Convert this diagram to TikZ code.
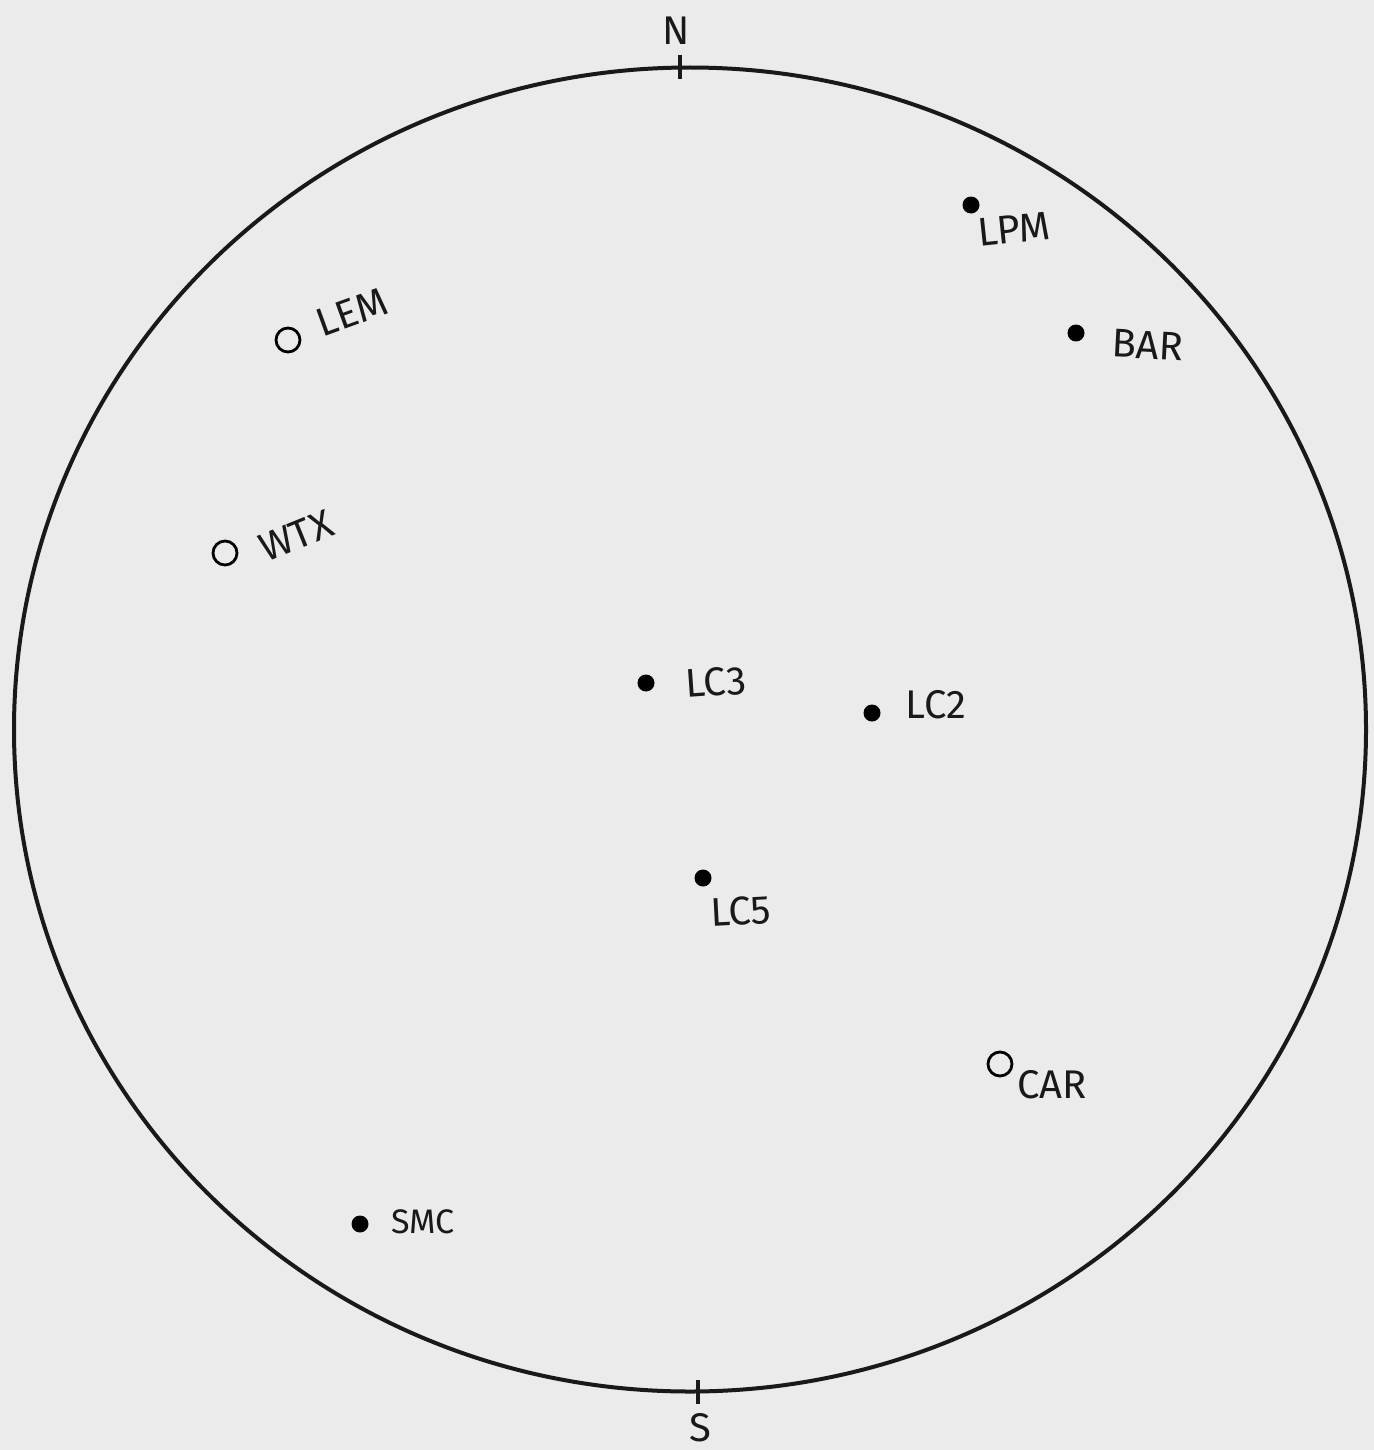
\documentclass[tikz,border=0pt]{standalone}
\usepackage{fontspec}
\setmainfont{Fira Sans}
\usetikzlibrary{shapes.geometric}
\begin{document}
\begin{tikzpicture}[x=0.5pt,y=-0.5pt,
  lbl/.style={font=\fontsize{20}{22}\selectfont, inner sep=0pt, text=black!90},
  fdot/.style={circle, fill=black, inner sep=0pt, minimum size=8.5pt},
  odot/.style={circle, draw=black, line width=1.4pt, fill=none, inner sep=0pt, minimum size=12pt},
  net/.style={line width=2pt, draw=black!90},
  tickl/.style={line width=1.8pt, draw=black!90}]
\fill[black!8] (0,0) rectangle (1374,1450);
\useasboundingbox (0,0) rectangle (1374,1450);
% primitive circle
\node[net, ellipse, minimum width=676pt, minimum height=662pt, inner sep=0pt] (net) at (690,729.5) {};
% N / S ticks
\coordinate (nt1) at (680,55); \coordinate (nt2) at (680,79);
\draw[tickl] (nt1) -- (nt2);
\node[lbl] (N) at (676,31) {N};
\coordinate (st1) at (698,1380); \coordinate (st2) at (698,1404);
\draw[tickl] (st1) -- (st2);
\node[lbl] (S) at (700,1428) {S};
% points
\node[fdot] (lpm) at (971,205) {};
\node[lbl, rotate=6] (lpmL) at (1014,229) {LPM};
\node[fdot] (bar) at (1076,333) {};
\node[lbl, rotate=-3] (barL) at (1148,345) {BAR};
\node[odot] (lem) at (288,340) {};
\node[lbl, rotate=20] (lemL) at (352,312) {LEM};
\node[odot] (wtx) at (225,553) {};
\node[lbl, rotate=22] (wtxL) at (296,536) {WTX};
\node[fdot] (lc3) at (646,683) {};
\node[lbl, rotate=4] (lc3L) at (716,682) {LC3};
\node[fdot] (lc2) at (872,713) {};
\node[lbl] (lc2L) at (936,705) {LC2};
\node[fdot] (lc5) at (703,878) {};
\node[lbl, rotate=3] (lc5L) at (741,911) {LC5};
\node[odot] (car) at (1000,1064) {};
\node[lbl] (carL) at (1052,1085) {CAR};
\node[fdot] (smc) at (360,1224) {};
\node[lbl, font=\fontsize{17}{19}\selectfont] (smcL) at (423,1222) {SMC};
\end{tikzpicture}
\end{document}
